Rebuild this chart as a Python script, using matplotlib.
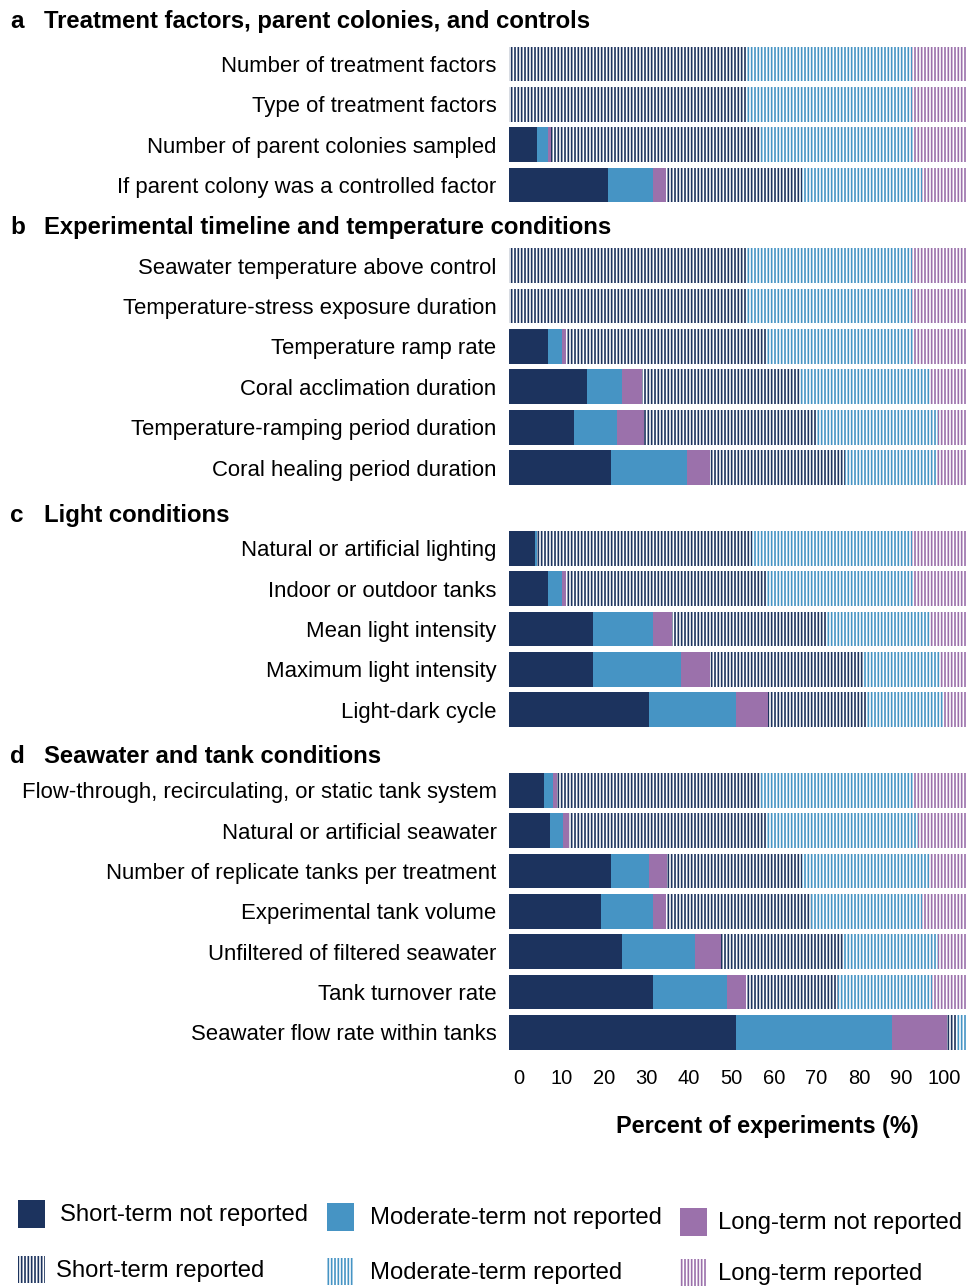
import numpy as np
import matplotlib.pyplot as plt
from matplotlib import transforms
from matplotlib.patches import Rectangle

plt.rcParams['font.family'] = ['Liberation Sans', 'DejaVu Sans']
plt.rcParams['hatch.linewidth'] = 1.2

# section headers and how many rows each one holds
section_letters = ["a", "b", "c", "d"]
section_titles = [
    "Treatment factors, parent colonies, and controls",
    "Experimental timeline and temperature conditions",
    "Light conditions",
    "Seawater and tank conditions",
]
section_sizes = [4, 6, 5, 7]

labels = [
    "Number of treatment factors",
    "Type of treatment factors",
    "Number of parent colonies sampled",
    "If parent colony was a controlled factor",
    "Seawater temperature above control",
    "Temperature-stress exposure duration",
    "Temperature ramp rate",
    "Coral acclimation duration",
    "Temperature-ramping period duration",
    "Coral healing period duration",
    "Natural or artificial lighting",
    "Indoor or outdoor tanks",
    "Mean light intensity",
    "Maximum light intensity",
    "Light-dark cycle",
    "Flow-through, recirculating, or static tank system",
    "Natural or artificial seawater",
    "Number of replicate tanks per treatment",
    "Experimental tank volume",
    "Unfiltered of filtered seawater",
    "Tank turnover rate",
    "Seawater flow rate within tanks",
]

# percent of experiments
short_nr = [0, 0, 6.2, 21.7, 0, 0, 8.6, 17.1, 14.2, 22.3, 5.7, 8.6, 18.4, 18.4, 30.6,
            7.6, 8.9, 22.3, 20.1, 24.6, 31.5, 49.6]
mod_nr = [0, 0, 2.4, 9.7, 0, 0, 3.0, 7.6, 9.4, 16.5, 0.5, 3.0, 13.0, 19.1, 19.0,
          1.9, 2.9, 8.3, 11.3, 16.1, 16.1, 34.1]
long_nr = [0, 0, 0.6, 2.8, 0, 0, 0.8, 4.3, 5.9, 5.1, 0.0, 0.8, 4.1, 6.4, 7.0,
           1.0, 1.4, 4.0, 2.8, 5.6, 4.2, 11.9]
short_rep = [51.7, 51.7, 45.7, 29.7, 51.7, 51.7, 43.7, 34.5, 37.8, 29.5, 46.8, 43.7, 33.8, 33.3, 21.3,
             44.4, 42.9, 29.3, 31.7, 26.9, 20.0, 2.2]
mod_rep = [36.2, 36.2, 33.6, 26.3, 36.2, 36.2, 32.4, 28.4, 26.4, 19.8, 34.9, 32.4, 22.6, 16.9, 17.1,
           33.6, 33.1, 27.9, 24.3, 20.4, 20.5, 2.2]
long_rep = [12.1, 12.1, 11.5, 9.8, 12.1, 12.1, 11.5, 8.1, 6.3, 6.8, 12.1, 11.5, 8.1, 5.9, 5.0,
            11.5, 10.8, 8.2, 9.8, 6.4, 7.7, 0.0]

legend_labels = ["Short-term not reported", "Moderate-term not reported", "Long-term not reported",
                 "Short-term reported", "Moderate-term reported", "Long-term reported"]

navy = "#1c335e"
blue = "#4694c4"
purple = "#9b71ab"
series = [
    (short_nr, navy, None),
    (mod_nr, blue, None),
    (long_nr, purple, None),
    (short_rep, navy, "|||||"),
    (mod_rep, blue, "|||||"),
    (long_rep, purple, "|||||"),
]

W, H = 969, 1286
fig = plt.figure(figsize=(W / 100, H / 100), dpi=100)


def fx(px):
    return px / W


def fy(py):
    return 1 - py / H


# row slots, with one empty slot above each section for its header
ypos = []
header_pos = []
slot = -1
for n in section_sizes:
    header_pos.append(slot)
    slot += 1
    for i in range(n):
        ypos.append(slot)
        slot += 1
header_shift = [-0.05, 0.05, 0.2, 0.15]

ax = fig.add_axes([fx(509), fy(1056.6), fx(458), (1056.6 - 3.5) / H])
left = np.zeros(len(labels))
for vals, color, hatch in series:
    vals = np.array(vals)
    if hatch:
        ax.barh(ypos, vals, left=left, height=0.86, color="white",
                edgecolor=color, hatch=hatch, linewidth=0)
    else:
        ax.barh(ypos, vals, left=left, height=0.86, color=color, linewidth=0)
    left += vals

ax.set_xlim(0, 100)
ax.set_ylim(24.6, -1.5)
ax.set_yticks(ypos, labels, fontsize=15.9)
ax.tick_params(axis="y", length=0, pad=9)
ax.set_xticks([])
for s in ax.spines.values():
    s.set_visible(False)

trans = transforms.blended_transform_factory(fig.transFigure, ax.transData)
for letter, title, hp, dy in zip(section_letters, section_titles, header_pos, header_shift):
    ax.text(fx(10), hp + dy, letter, transform=trans, fontsize=17.5,
            fontweight="bold", va="center")
    ax.text(fx(44), hp + dy, title, transform=trans, fontsize=17.2,
            fontweight="bold", va="center")

# scale labels under the bars
sax = fig.add_axes([fx(519), fy(1062), fx(425), 0.0005])
sax.set_xlim(0, 100)
sax.set_xticks(np.arange(0, 101, 10))
sax.tick_params(axis="x", length=0, pad=5, labelsize=14.5)
sax.set_yticks([])
for s in sax.spines.values():
    s.set_visible(False)
sax.patch.set_visible(False)

fig.text(fx(767), fy(1126), "Percent of experiments (%)", ha="center", va="center",
         fontsize=16.9, fontweight="bold")

# legend drawn by hand
patch_x = [18, 327, 680]
text_x = [[60, 370, 718], [56, 370, 718]]
patch_top = [[1200, 1203, 1208], [1256, 1258, 1259]]
for i, (lab, (vals, color, hatch)) in enumerate(zip(legend_labels, series)):
    r, c = divmod(i, 3)
    x0 = patch_x[c]
    y0 = patch_top[r][c]
    if hatch:
        rect = Rectangle((fx(x0), fy(y0 + 27)), fx(27), 27 / H, transform=fig.transFigure,
                         facecolor="white", edgecolor=color, hatch=hatch, linewidth=0)
    else:
        rect = Rectangle((fx(x0), fy(y0 + 28)), fx(27), 28 / H, transform=fig.transFigure,
                         facecolor=color, linewidth=0)
    fig.add_artist(rect)
    fig.text(fx(text_x[r][c]), fy(y0 + 15), lab, ha="left", va="center", fontsize=17.2)

fig.savefig("out.png", dpi=100)
